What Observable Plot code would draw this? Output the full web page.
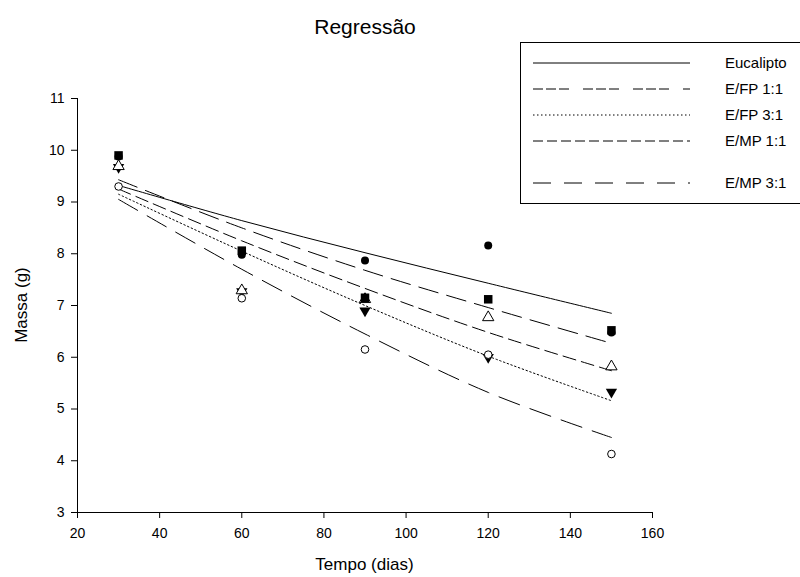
<!DOCTYPE html>
<html>
<head>
<meta charset="utf-8">
<script src="https://cdn.jsdelivr.net/npm/d3@7"></script>
<script src="https://cdn.jsdelivr.net/npm/@observablehq/plot@0.6"></script>
<style>
  html, body { margin: 0; padding: 0; background: #fff; }
  #wrap { position: relative; width: 800px; height: 577px; font-family: "Liberation Sans", Arial, sans-serif; color: #000; }
  #title { position: absolute; left: 0; width: 730px; top: 15px; text-align: center; font-size: 21px; }
  #xlabel { position: absolute; left: 0; width: 729px; top: 555px; text-align: center; font-size: 17px; }
  #ylabel { position: absolute; left: 22px; top: 305px; font-size: 17px; white-space: nowrap; transform: translate(-50%, -50%) rotate(-90deg); }
  #legend { position: absolute; left: 520px; top: 42px; }
</style>
</head>
<body>
<div id="wrap">
  <div id="chart"></div>
  <div id="title">Regressão</div>
  <div id="xlabel">Tempo (dias)</div>
  <div id="ylabel">Massa (g)</div>
  <svg id="legend" width="280" height="162"></svg>
</div>
<script>
// ---- data ----
const days = [30, 60, 90, 120, 150];
const seriesNames = ["Eucalipto", "E/FP 1:1", "E/FP 3:1", "E/MP 1:1", "E/MP 3:1"];
const xTicks = [20, 40, 60, 80, 100, 120, 140, 160];
const yTicks = [3, 4, 5, 6, 7, 8, 9, 10, 11];

// observed masses (g)
const obsEucalipto = [9.88, 7.98, 7.87, 8.16, 6.48];
const obsEFP11     = [9.90, 8.06, 7.15, 7.12, 6.52];
const obsEFP31     = [9.67, 7.27, 6.90, 6.00, 5.33];
const obsEMP11     = [9.69, 7.29, 7.12, 6.77, 5.82];
const obsEMP31     = [9.30, 7.14, 6.15, 6.05, 4.13];

// regression curves
const fitEucalipto = [9.32, 8.64, 8.02, 7.43, 6.85];
const fitEFP11     = [9.43, 8.50, 7.68, 6.96, 6.27];
const fitEFP31     = [9.15, 8.05, 7.00, 6.02, 5.16];
const fitEMP11     = [9.25, 8.25, 7.33, 6.48, 5.74];
const fitEMP31     = [9.05, 7.70, 6.45, 5.32, 4.45];

// ---- styles ----
const plotDashes   = [null, "20,9", "1.5,2.5", "13,6", "22,11"];
const legendDashes = [null, "10,3,10,3,10,14", "1.5,2.5", "10,4", "18,13"];

const toRows = (vals) => days.map((d, i) => ({x: d, y: vals[i]}));
const fits = [fitEucalipto, fitEFP11, fitEFP31, fitEMP11, fitEMP31].map(toRows);

const lineMarks = fits.map((rows, i) => Plot.line(rows, {
  x: "x", y: "y", stroke: "#000", strokeWidth: 1, curve: "catmull-rom",
  strokeDasharray: plotDashes[i] ?? undefined
}));

const chart = Plot.plot({
  width: 800, height: 577,
  marginLeft: 77, marginRight: 148, marginTop: 98, marginBottom: 65,
  style: {fontFamily: "Liberation Sans, Arial, sans-serif", fontSize: "14px", color: "#000", background: "transparent"},
  x: {domain: [20, 160]},
  y: {domain: [3, 11]},
  marks: [
    Plot.axisX(xTicks, {tickSize: 6, tickPadding: 10, fontSize: 14, tickFormat: "d", label: null}),
    Plot.axisY(yTicks, {tickSize: 6, tickPadding: 7, fontSize: 14, tickFormat: "d", label: null}),
    Plot.ruleX([20], {stroke: "#000"}),
    Plot.ruleY([3], {stroke: "#000"}),
    ...lineMarks,
    Plot.dot(toRows(obsEucalipto), {x: "x", y: "y", symbol: "circle", r: 4, fill: "#000"}),
    Plot.dot(toRows(obsEFP31), {x: "x", y: "y", symbol: "triangle", rotate: 180, r: 4.2, fill: "#000"}),
    Plot.dot(toRows(obsEMP11), {x: "x", y: "y", symbol: "triangle", r: 4.2, fill: "#fff", stroke: "#000", strokeWidth: 1}),
    Plot.dot(toRows(obsEFP11), {x: "x", y: "y", symbol: "square", r: 4.8, fill: "#000"}),
    Plot.dot(toRows(obsEMP31), {x: "x", y: "y", symbol: "circle", r: 3.8, fill: "#fff", stroke: "#000", strokeWidth: 1})
  ]
});
document.getElementById("chart").appendChild(chart);

// ---- legend overlay ----
const lg = d3.select("#legend");
lg.append("rect").attr("x", 0.5).attr("y", 0.5).attr("width", 290).attr("height", 161)
  .attr("fill", "#fff").attr("stroke", "#000").attr("stroke-width", 1);
const rowY = [21, 47, 73, 99, 141];
seriesNames.forEach((name, i) => {
  lg.append("line").attr("x1", 13).attr("x2", 170).attr("y1", rowY[i]).attr("y2", rowY[i])
    .attr("stroke", "#000").attr("stroke-width", 1)
    .attr("stroke-dasharray", legendDashes[i]);
  lg.append("text").attr("x", 205).attr("y", rowY[i] + 5).attr("font-size", 15)
    .attr("font-family", "Liberation Sans, Arial, sans-serif").text(name);
});
</script>
</body>
</html>
